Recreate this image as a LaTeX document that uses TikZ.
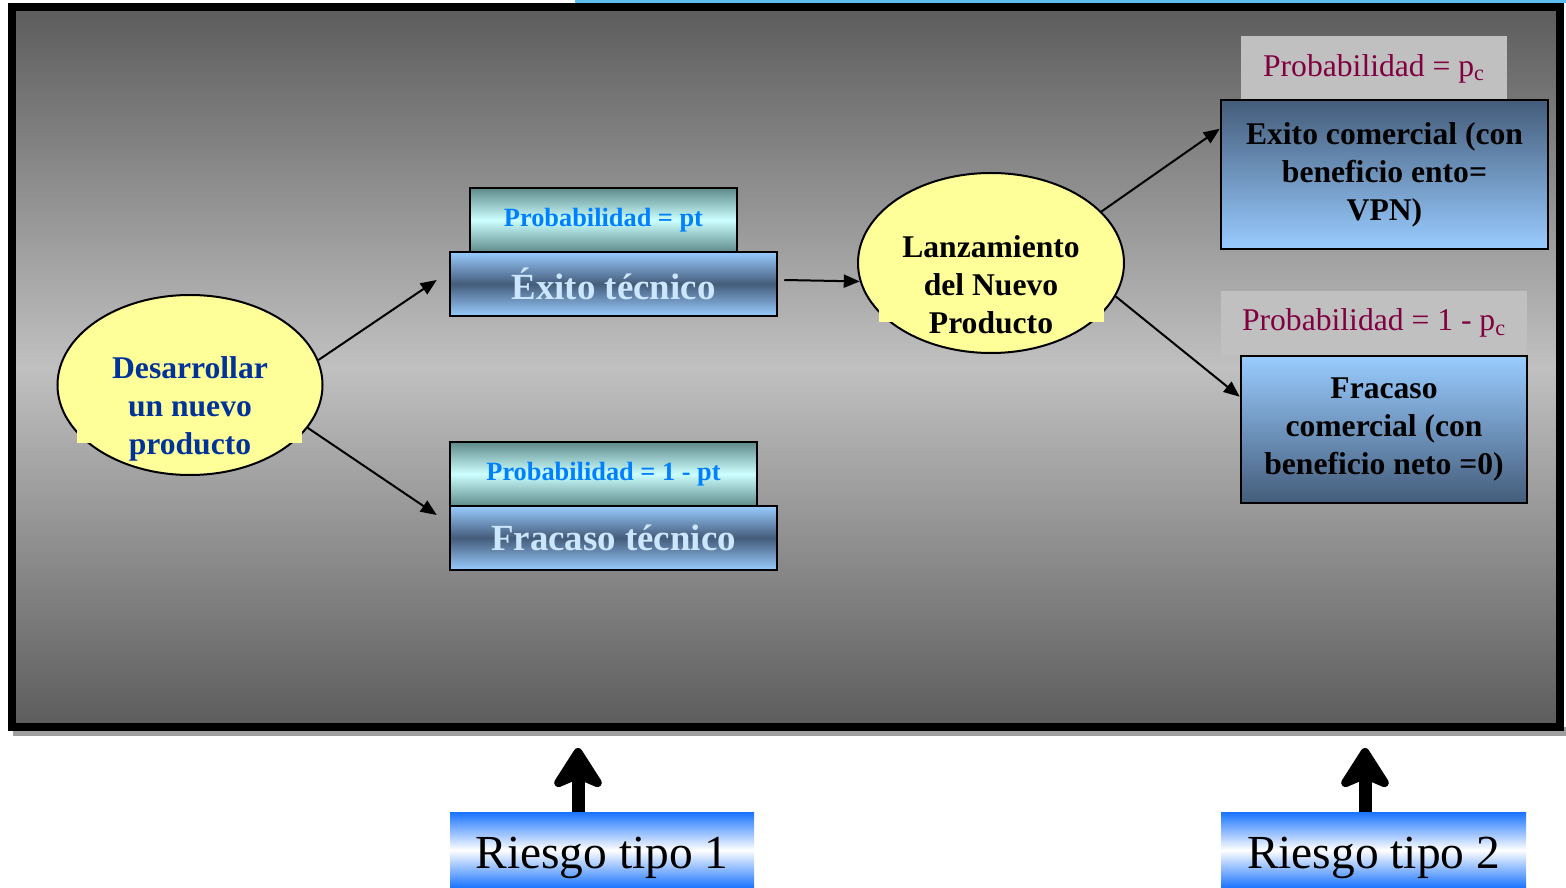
\documentclass[tikz,border=0pt]{standalone}
\usepackage{fontspec}
\setmainfont{Liberation Serif}
\usetikzlibrary{
    arrows.meta,
    positioning,
    shapes.geometric
}
\newdimen\pix
\pix=0.02cm
\definecolor{amarillo}{RGB}{255,255,153}
\definecolor{azultinta}{RGB}{0,51,153}
\definecolor{azulclaro}{RGB}{153,204,255}
\definecolor{azulpizarra}{RGB}{68,92,122}
\definecolor{tealoscuro}{RGB}{95,138,138}
\definecolor{cianclaro}{RGB}{204,255,255}
\definecolor{azulprob}{RGB}{0,128,255}
\definecolor{granate}{RGB}{128,0,64}
\definecolor{textoclaro}{RGB}{204,230,255}
\definecolor{azulriesgo}{RGB}{25,115,255}
\definecolor{celeste}{RGB}{95,190,240}
\definecolor{grisfondo}{RGB}{192,192,192}
\definecolor{grisoscuro}{RGB}{92,92,92}
\tikzset{
    % Nodos
    burbuja/.style={
        ellipse,
        draw=black,
        line width=2\pix,
        fill=amarillo,
        minimum width=265\pix,
        minimum height=180\pix,
        inner sep=0pt
    },
    texto burbuja/.style={
        align=center,
        font=\fontsize{18}{21.6}\selectfont\bfseries,
        inner sep=0pt
    },
    caja prob/.style={
        draw=black,
        line width=2.5\pix,
        top color=tealoscuro,
        bottom color=tealoscuro,
        middle color=cianclaro,
        text=azulprob,
        font=\fontsize{15}{18}\selectfont\bfseries,
        minimum height=64\pix,
        inner sep=0pt
    },
    caja tecnico/.style={
        draw=black,
        line width=2.5\pix,
        top color=azulclaro,
        bottom color=azulclaro,
        middle color=azulpizarra,
        text=textoclaro,
        font=\fontsize{21}{25}\selectfont\bfseries,
        minimum width=327\pix,
        minimum height=64\pix,
        inner sep=0pt
    },
    caja gris/.style={
        fill=grisfondo,
        text=granate,
        font=\fontsize{18}{21.6}\selectfont,
        minimum height=64\pix,
        inner sep=0pt,
        outer sep=0pt
    },
    caja comercial/.style={
        draw=black,
        line width=2.5\pix,
        align=center,
        font=\fontsize{18}{21.6}\selectfont\bfseries,
        inner sep=0pt
    },
    caja riesgo/.style={
        top color=azulriesgo,
        bottom color=azulriesgo,
        middle color=white,
        font=\fontsize{27}{32}\selectfont,
        text height=36\pix,
        text depth=0pt,
        minimum width=305\pix,
        minimum height=76\pix,
        inner sep=0pt
    },
    % Flechas
    flecha/.style={
        -{Triangle[length=0.32cm,width=0.26cm]},
        line width=0.04cm,
        black
    },
    flecha gruesa/.style={
        -{Stealth[round,length=0.95cm,width=1.2cm,inset=0.25cm,line width=0.2cm]},
        line width=0.26cm,
        black
    }
}

\begin{document}
\begin{tikzpicture}[x=0.02cm, y=-0.02cm]
    \useasboundingbox (0,0) rectangle (1566,888);

    % marco de la diapositiva
    \fill[celeste] (575,0) rectangle (1566,3);
    \fill[gray!75] (13,727) rectangle (1566,736);
    \draw[line width=8\pix, top color=grisoscuro, bottom color=grisoscuro,
        middle color=grisfondo] (12,7) rectangle (1560,727);

    % nodos de decision
    \node[burbuja] (desarrollo) at (190,385) {};
    \fill[amarillo] (77,426) rectangle (302,443);
    \node[texto burbuja, text=azultinta] (desarrollo-txt) at (190,409)
        {Desarrollar\\un nuevo\\producto};

    \node[burbuja, minimum width=266\pix] (lanzamiento) at (991,263) {};
    \fill[amarillo] (879,306) rectangle (1104,322);
    \node[texto burbuja] (lanzamiento-txt) at (991,285)
        {Lanzamiento\\del Nuevo\\Producto};

    % riesgo tecnico
    \node[caja tecnico] (exito) at (613.5,284) {Éxito técnico};
    \node[caja prob, minimum width=267\pix, above=-2.5\pix of exito, xshift=-10\pix]
        (probpt) {Probabilidad = pt};
    \node[caja tecnico] (fracaso) at (613.5,538) {Fracaso técnico};
    \node[caja prob, minimum width=307\pix, above=-2.5\pix of fracaso, xshift=-10\pix]
        (probnopt) {Probabilidad = 1 - pt};

    % riesgo comercial
    \node[caja gris, minimum width=266\pix] (probpc) at (1374,68.5)
        {Probabilidad = p\textsubscript{c}};
    \node[caja comercial, top color=azulpizarra, bottom color=azulclaro,
        minimum width=327\pix, minimum height=149\pix] (excom) at (1384.5,174.5)
        {Exito comercial (con\\beneficio ento=\\VPN)};
    \node[caja gris, minimum width=306\pix] (probnopc) at (1374,323)
        {Probabilidad = 1 - p\textsubscript{c}};
    \node[caja comercial, top color=azulclaro, bottom color=azulpizarra,
        minimum width=286\pix, minimum height=147\pix] (fracom) at (1384,429.5)
        {Fracaso\\comercial (con\\beneficio neto =0)};

    % conexiones
    \draw[flecha] (desarrollo.11) -- ([xshift=-12\pix,yshift=4\pix]exito.west);
    \draw[flecha] (desarrollo.-20) -- ([xshift=-12\pix,yshift=23\pix]fracaso.west);
    \draw[flecha] ([xshift=6\pix,yshift=4\pix]exito.east) -- (lanzamiento.188);
    \draw[flecha] (lanzamiento.25) -- ([yshift=-30\pix]excom.north west);
    \draw[flecha] (lanzamiento.-15) -- ([yshift=-42\pix]fracom.north west);

    % tipos de riesgo
    \node[caja riesgo, minimum width=304\pix] (riesgo1) at (602,850) {Riesgo tipo 1};
    \node[caja riesgo] (riesgo2) at (1373.5,850) {Riesgo tipo 2};
    \coordinate (punta1) at (578,748);
    \coordinate (punta2) at (1365,748);
    \draw[flecha gruesa] ([xshift=-24\pix]riesgo1.north) -- (punta1);
    \draw[flecha gruesa] ([xshift=-8.5\pix]riesgo2.north) -- (punta2);
\end{tikzpicture}
\end{document}
